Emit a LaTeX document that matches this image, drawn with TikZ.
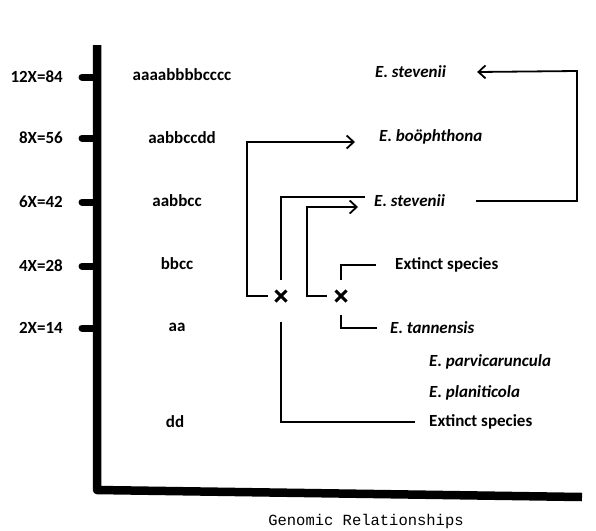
\documentclass[tikz,border=0pt]{standalone}
\usepackage{fontspec}
\setmainfont{Carlito}
\setmonofont{Liberation Mono}
\usetikzlibrary{arrows.meta, shapes.misc}

\begin{document}
\begin{tikzpicture}[x=1pt,y=-1pt]
\useasboundingbox (0,0) rectangle (596,530);

% axes
\draw [line width=8.5pt, line join=round] (97,45) -- (97,490) -- (582,497);
\node (xlabel) at (366,521) [font=\ttfamily\fontsize{15.5}{18}\selectfont] {Genomic Relationships};

\begin{scope}[every node/.style={inner sep=0pt, font=\bfseries\fontsize{17}{20}\selectfont}]
    \foreach \y/\lab [count=\i] in {77/12X=84, 138/8X=56, 202/6X=42, 266/4X=28, 328/2X=14} {
        \draw [line width=7pt, line cap=round] (82,\y) -- (97,\y);
        \node (ploidy\i) at (63,\y) [anchor=east] {\lab};
    }

    \node (genA) at (182,75) {aaaabbbbcccc};
    \node (genB) at (182,138) {aabbccdd};
    \node (genC) at (177,201) {aabbcc};
    \node (genD) at (177,264) {bbcc};
    \node (genE) at (177,327) {aa};
    \node (genF) at (175,422) {dd};
\end{scope}

\begin{scope}[every node/.style={inner sep=0pt, anchor=west, font=\bfseries\fontsize{17}{20}\selectfont}]
    \node (stevA) at (375,72) [font=\bfseries\itshape\fontsize{17}{20}\selectfont] {E. stevenii};
    \node (boo) at (379,137) [font=\bfseries\itshape\fontsize{17}{20}\selectfont] {E. boöphthona};
    \node (stevB) at (374,201) [font=\bfseries\itshape\fontsize{17}{20}\selectfont] {E. stevenii};
    \node (extA) at (395,265) {Extinct species};
    \node (tann) at (390,328) [font=\bfseries\itshape\fontsize{17}{20}\selectfont] {E. tannensis};
    \node (parvi) at (429,362) [font=\bfseries\itshape\fontsize{17}{20}\selectfont] {E. parvicaruncula};
    \node (plani) at (429,393) [font=\bfseries\itshape\fontsize{17}{20}\selectfont] {E. planiticola};
    \node (extB) at (429,422) {Extinct species};
\end{scope}

\begin{scope}[every node/.style={cross out, draw, line width=3pt, minimum size=8pt, inner sep=0pt}]
    \node (crossA) at (281,296) {};
    \node (crossB) at (341,296) {};
\end{scope}

\coordinate (booTip) at (355,142);
\coordinate (stevTip) at (358,207);

\begin{scope}[>={Straight Barb[length=7pt, width=13pt]}, line width=1.8pt]
    \draw [->] ([xshift=-8pt]crossA.west) -| (247,142) -- (booTip);
    \draw ([yshift=11pt]crossA.north) |- (365,197);
    \draw [->] ([xshift=-9pt]crossB.west) -| (307,207) -- (stevTip);
    \draw ([yshift=11pt]crossB.north) |- ([xshift=-19pt]extA.west);
    \draw ([yshift=-13pt]crossB.south) |- ([xshift=-13pt]tann.west);
    \draw ([yshift=-20pt]crossA.south) |- ([xshift=-14pt]extB.west);
    \draw [->] ([xshift=31pt]stevB.east) -| (577,71) -- ([xshift=31pt]stevA.east);
\end{scope}
\end{tikzpicture}
\end{document}
